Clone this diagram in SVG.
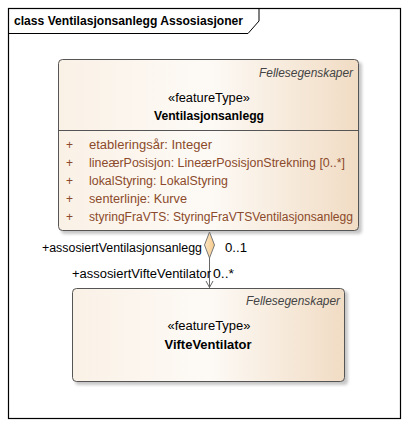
<svg xmlns="http://www.w3.org/2000/svg" width="408" height="426" viewBox="0 0 408 426">
<defs>
<linearGradient id="g" x1="0" y1="0" x2="1" y2="0">
<stop offset="0" stop-color="#faf1e6"/>
<stop offset="0.5" stop-color="#fdfaf6"/>
<stop offset="1" stop-color="#f1dcc4"/>
</linearGradient>
<linearGradient id="dg" x1="0" y1="0" x2="1" y2="0">
<stop offset="0" stop-color="#fbe6c4"/>
<stop offset="1" stop-color="#f5c98a"/>
</linearGradient>
<filter id="sh" x="-5%" y="-5%" width="115%" height="120%">
<feGaussianBlur stdDeviation="1.5"/>
</filter>
</defs>
<style>
text{font-family:"Liberation Sans",Arial,sans-serif;font-size:12px;fill:#000}
.title{font-weight:bold}
.it{font-style:italic;fill:#444}
.b{font-weight:bold}
.attr{fill:#8b4a2b}
.box{fill:url(#g);stroke:#555;stroke-width:1}
.shadow{fill:#999;opacity:0.55;filter:url(#sh)}
.ln{stroke:#666;stroke-width:1;fill:none}
</style>
<rect x="0" y="0" width="408" height="426" fill="#fff"/>
<g id="frame">
<rect x="8.5" y="8.5" width="392" height="410" fill="#fff" stroke="#000" stroke-width="1.2"/>
<polyline points="8.5,33.5 248,33.5 259,21 259,8.5" fill="none" stroke="#000" stroke-width="1"/>
<text class="title" x="14" y="25" textLength="229" lengthAdjust="spacingAndGlyphs">class Ventilasjonsanlegg Assosiasjoner</text>
</g>
<g id="Ventilasjonsanlegg">
<rect class="shadow" x="61" y="62" width="301" height="172" rx="4"/>
<rect class="box" x="58.5" y="59.5" width="300" height="171" rx="4"/>
<line x1="58.5" y1="130.5" x2="358.5" y2="130.5" stroke="#555"/>
<text class="it" x="353" y="77" text-anchor="end" textLength="94" lengthAdjust="spacingAndGlyphs">Fellesegenskaper</text>
<text x="209" y="102" text-anchor="middle" textLength="82" lengthAdjust="spacingAndGlyphs">«featureType»</text>
<text class="b" x="209" y="120" text-anchor="middle" textLength="110" lengthAdjust="spacingAndGlyphs">Ventilasjonsanlegg</text>
<text class="attr" x="66" y="149">+</text>
<text class="attr" x="89" y="149" textLength="123" lengthAdjust="spacingAndGlyphs">etableringsår: Integer</text>
<text class="attr" x="66" y="167">+</text>
<text class="attr" x="89" y="167" textLength="256" lengthAdjust="spacingAndGlyphs">lineærPosisjon: LineærPosisjonStrekning [0..*]</text>
<text class="attr" x="66" y="185">+</text>
<text class="attr" x="89" y="185" textLength="139" lengthAdjust="spacingAndGlyphs">lokalStyring: LokalStyring</text>
<text class="attr" x="66" y="203">+</text>
<text class="attr" x="89" y="203" textLength="98" lengthAdjust="spacingAndGlyphs">senterlinje: Kurve</text>
<text class="attr" x="66" y="221">+</text>
<text class="attr" x="89" y="221" textLength="264" lengthAdjust="spacingAndGlyphs">styringFraVTS: StyringFraVTSVentilasjonsanlegg</text>
</g>
<g id="VifteVentilator">
<rect class="shadow" x="75" y="291" width="273" height="94" rx="4"/>
<rect class="box" x="72.5" y="288.5" width="272" height="93" rx="4"/>
<text class="it" x="340" y="305" text-anchor="end" textLength="94" lengthAdjust="spacingAndGlyphs">Fellesegenskaper</text>
<text x="209" y="330" text-anchor="middle" textLength="83" lengthAdjust="spacingAndGlyphs">«featureType»</text>
<text class="b" x="208" y="349" text-anchor="middle" textLength="87" lengthAdjust="spacingAndGlyphs">VifteVentilator</text>
</g>
<g id="connectors">
<line class="ln" x1="209.5" y1="257" x2="209.5" y2="288"/>
<polygon points="209.5,232 214.5,245 209.5,258 204.5,245" fill="url(#dg)" stroke="#777" stroke-width="1"/>
<polyline class="ln" points="206,281 209.5,287.5 213,281"/>
<text x="42" y="252" textLength="160" lengthAdjust="spacingAndGlyphs">+assosiertVentilasjonsanlegg</text>
<text x="225" y="252" textLength="22" lengthAdjust="spacingAndGlyphs">0..1</text>
<text x="72" y="278" textLength="139" lengthAdjust="spacingAndGlyphs">+assosiertVifteVentilator</text>
<text x="213" y="278" textLength="21" lengthAdjust="spacingAndGlyphs">0..*</text>
</g>
</svg>
